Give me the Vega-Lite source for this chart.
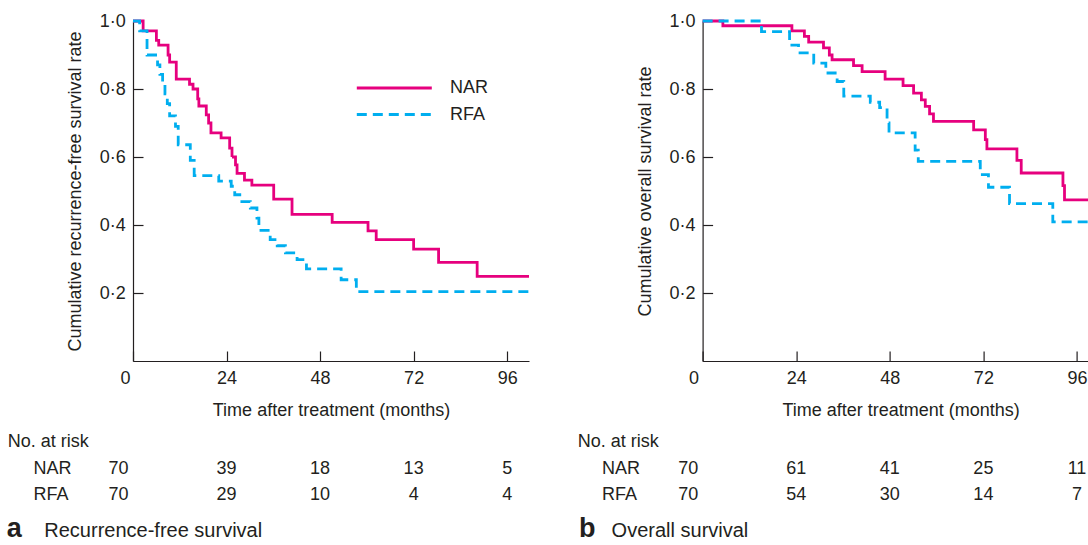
{
  "$schema": "https://vega.github.io/schema/vega-lite/v6.json",
  "background": "white",
  "padding": {"left": 6, "top": 12, "right": 0, "bottom": 0},
  "config": {
    "font": "Liberation Sans",
    "view": {"stroke": null},
    "axis": {"grid": false, "domainColor": "#231f20", "tickColor": "#231f20", "labelColor": "#231f20", "titleColor": "#231f20", "labelFont": "Liberation Sans", "titleFont": "Liberation Sans", "labelFontSize": 18, "titleFontSize": 18, "titleFontWeight": "normal", "domainWidth": 1.2, "tickWidth": 1.2, "tickSize": -10},
    "text": {"font": "Liberation Sans", "fontSize": 18, "color": "#231f20"}
  },
  "datasets": {
    "rfs": [
      {"group": "NAR", "time": 0, "survival": 1},
      {"group": "NAR", "time": 2.6, "survival": 0.971},
      {"group": "NAR", "time": 6.0, "survival": 0.943},
      {"group": "NAR", "time": 6.6, "survival": 0.929},
      {"group": "NAR", "time": 9.0, "survival": 0.9},
      {"group": "NAR", "time": 9.4, "survival": 0.879},
      {"group": "NAR", "time": 11.1, "survival": 0.829},
      {"group": "NAR", "time": 14.5, "survival": 0.814},
      {"group": "NAR", "time": 15.4, "survival": 0.8},
      {"group": "NAR", "time": 16.6, "survival": 0.771},
      {"group": "NAR", "time": 16.9, "survival": 0.75},
      {"group": "NAR", "time": 18.8, "survival": 0.724},
      {"group": "NAR", "time": 19.4, "survival": 0.7},
      {"group": "NAR", "time": 20.0, "survival": 0.671},
      {"group": "NAR", "time": 22.6, "survival": 0.656},
      {"group": "NAR", "time": 24.8, "survival": 0.626},
      {"group": "NAR", "time": 25.4, "survival": 0.6},
      {"group": "NAR", "time": 26.3, "survival": 0.577},
      {"group": "NAR", "time": 26.7, "survival": 0.552},
      {"group": "NAR", "time": 28.6, "survival": 0.532},
      {"group": "NAR", "time": 30.5, "survival": 0.517},
      {"group": "NAR", "time": 36.1, "survival": 0.476},
      {"group": "NAR", "time": 40.8, "survival": 0.431},
      {"group": "NAR", "time": 51.1, "survival": 0.408},
      {"group": "NAR", "time": 60.3, "survival": 0.383},
      {"group": "NAR", "time": 62.4, "survival": 0.357},
      {"group": "NAR", "time": 72.0, "survival": 0.329},
      {"group": "NAR", "time": 78.4, "survival": 0.29},
      {"group": "NAR", "time": 88.3, "survival": 0.249},
      {"group": "NAR", "time": 101.6, "survival": 0.249},
      {"group": "RFA", "time": 0, "survival": 1},
      {"group": "RFA", "time": 1.7, "survival": 0.971},
      {"group": "RFA", "time": 3.6, "survival": 0.9},
      {"group": "RFA", "time": 6.3, "survival": 0.871},
      {"group": "RFA", "time": 6.9, "survival": 0.843},
      {"group": "RFA", "time": 7.6, "survival": 0.814},
      {"group": "RFA", "time": 8.2, "survival": 0.786},
      {"group": "RFA", "time": 8.8, "survival": 0.757},
      {"group": "RFA", "time": 9.4, "survival": 0.721},
      {"group": "RFA", "time": 10.9, "survival": 0.69},
      {"group": "RFA", "time": 11.6, "survival": 0.636},
      {"group": "RFA", "time": 14.7, "survival": 0.59},
      {"group": "RFA", "time": 15.7, "survival": 0.545},
      {"group": "RFA", "time": 22.0, "survival": 0.529},
      {"group": "RFA", "time": 25.2, "survival": 0.514},
      {"group": "RFA", "time": 26.1, "survival": 0.489},
      {"group": "RFA", "time": 27.4, "survival": 0.469},
      {"group": "RFA", "time": 30.1, "survival": 0.45},
      {"group": "RFA", "time": 31.8, "survival": 0.42},
      {"group": "RFA", "time": 32.3, "survival": 0.384},
      {"group": "RFA", "time": 35.2, "survival": 0.357},
      {"group": "RFA", "time": 37.0, "survival": 0.339},
      {"group": "RFA", "time": 39.1, "survival": 0.318},
      {"group": "RFA", "time": 42.1, "survival": 0.298},
      {"group": "RFA", "time": 44.5, "survival": 0.271},
      {"group": "RFA", "time": 53.4, "survival": 0.239},
      {"group": "RFA", "time": 57.3, "survival": 0.204},
      {"group": "RFA", "time": 101.6, "survival": 0.204}
    ],
    "os": [
      {"group": "NAR", "time": 0, "survival": 1},
      {"group": "NAR", "time": 5.2, "survival": 0.986},
      {"group": "NAR", "time": 22.9, "survival": 0.971},
      {"group": "NAR", "time": 26.1, "survival": 0.955},
      {"group": "NAR", "time": 27.2, "survival": 0.938},
      {"group": "NAR", "time": 31.0, "survival": 0.921},
      {"group": "NAR", "time": 32.5, "survival": 0.9},
      {"group": "NAR", "time": 33.2, "survival": 0.886},
      {"group": "NAR", "time": 38.7, "survival": 0.869},
      {"group": "NAR", "time": 40.9, "survival": 0.851},
      {"group": "NAR", "time": 46.8, "survival": 0.829},
      {"group": "NAR", "time": 51.4, "survival": 0.81},
      {"group": "NAR", "time": 54.1, "survival": 0.788},
      {"group": "NAR", "time": 56.1, "survival": 0.768},
      {"group": "NAR", "time": 57.1, "survival": 0.749},
      {"group": "NAR", "time": 58.2, "survival": 0.727},
      {"group": "NAR", "time": 59.2, "survival": 0.705},
      {"group": "NAR", "time": 69.5, "survival": 0.68},
      {"group": "NAR", "time": 72.5, "survival": 0.651},
      {"group": "NAR", "time": 72.9, "survival": 0.624},
      {"group": "NAR", "time": 80.6, "survival": 0.59},
      {"group": "NAR", "time": 81.7, "survival": 0.553},
      {"group": "NAR", "time": 92.4, "survival": 0.516},
      {"group": "NAR", "time": 92.8, "survival": 0.474},
      {"group": "NAR", "time": 98.85, "survival": 0.474},
      {"group": "RFA", "time": 0, "survival": 1},
      {"group": "RFA", "time": 15.1, "survival": 0.969},
      {"group": "RFA", "time": 22.3, "survival": 0.929},
      {"group": "RFA", "time": 24.6, "survival": 0.906},
      {"group": "RFA", "time": 28.5, "survival": 0.876},
      {"group": "RFA", "time": 31.6, "survival": 0.847},
      {"group": "RFA", "time": 34.5, "survival": 0.822},
      {"group": "RFA", "time": 36.2, "survival": 0.779},
      {"group": "RFA", "time": 43.0, "survival": 0.761},
      {"group": "RFA", "time": 45.4, "survival": 0.745},
      {"group": "RFA", "time": 47.3, "survival": 0.7},
      {"group": "RFA", "time": 47.8, "survival": 0.671},
      {"group": "RFA", "time": 54.5, "survival": 0.62},
      {"group": "RFA", "time": 55.3, "survival": 0.587},
      {"group": "RFA", "time": 71.2, "survival": 0.548},
      {"group": "RFA", "time": 73.3, "survival": 0.511},
      {"group": "RFA", "time": 78.7, "survival": 0.463},
      {"group": "RFA", "time": 89.8, "survival": 0.409},
      {"group": "RFA", "time": 98.85, "survival": 0.409}
    ],
    "risk": [
      {"panel": "a", "group": "NAR", "time": 0, "n": 70},
      {"panel": "a", "group": "NAR", "time": 24, "n": 39},
      {"panel": "a", "group": "NAR", "time": 48, "n": 18},
      {"panel": "a", "group": "NAR", "time": 72, "n": 13},
      {"panel": "a", "group": "NAR", "time": 96, "n": 5},
      {"panel": "a", "group": "RFA", "time": 0, "n": 70},
      {"panel": "a", "group": "RFA", "time": 24, "n": 29},
      {"panel": "a", "group": "RFA", "time": 48, "n": 10},
      {"panel": "a", "group": "RFA", "time": 72, "n": 4},
      {"panel": "a", "group": "RFA", "time": 96, "n": 4},
      {"panel": "b", "group": "NAR", "time": 0, "n": 70},
      {"panel": "b", "group": "NAR", "time": 24, "n": 61},
      {"panel": "b", "group": "NAR", "time": 48, "n": 41},
      {"panel": "b", "group": "NAR", "time": 72, "n": 25},
      {"panel": "b", "group": "NAR", "time": 96, "n": 11},
      {"panel": "b", "group": "RFA", "time": 0, "n": 70},
      {"panel": "b", "group": "RFA", "time": 24, "n": 54},
      {"panel": "b", "group": "RFA", "time": 48, "n": 30},
      {"panel": "b", "group": "RFA", "time": 72, "n": 14},
      {"panel": "b", "group": "RFA", "time": 96, "n": 7}
    ]
  },
  "columns": 2,
  "bounds": "flush",
  "align": "each",
  "spacing": {"column": 173.6, "row": 107.7},
  "concat": [
    {
      "width": 396,
      "height": 340,
      "data": {"name": "rfs"},
      "mark": {"type": "line", "interpolate": "step-after", "strokeWidth": 2.8},
      "encoding": {
        "x": {"field": "time", "type": "quantitative", "scale": {"domain": [0, 101.6], "nice": false, "zero": false},
          "axis": {"title": "Time after treatment (months)", "values": [0, 24, 48, 72, 96], "labelPadding": 18.7, "labelOffset": {"condition": {"test": "datum.value === 0", "value": -13}, "value": 0}, "titleX": 198, "titleY": 49, "titleBaseline": "middle", "titleAlign": "center"}},
        "y": {"field": "survival", "type": "quantitative", "scale": {"domain": [0, 1], "nice": false},
          "axis": {"title": "Cumulative recurrence-free survival rate", "values": [0.2, 0.4, 0.6, 0.8, 1], "labelExpr": "replace(format(datum.value, '.1f'), '.', '·')", "labelPadding": 17.7, "titleX": -57.4, "titleY": 170, "titleBaseline": "middle", "titleAlign": "center", "titleAngle": -90}},
        "color": {"field": "group", "type": "nominal", "scale": {"domain": ["NAR", "RFA"], "range": ["#e6007e", "#00aeef"]},
          "legend": {"title": null, "orient": "none", "legendX": 252.3, "legendY": 58, "padding": 0, "symbolType": "M-5,0H5", "symbolSize": 225, "symbolStrokeWidth": 2.8, "symbolOffset": 0, "labelFontSize": 18, "labelFont": "Liberation Sans", "labelColor": "#231f20", "labelOffset": 46.7, "rowPadding": 8.5}},
        "strokeDash": {"field": "group", "type": "nominal", "scale": {"domain": ["NAR", "RFA"], "range": [[1, 0], [10, 6]]},
          "legend": {"title": null, "orient": "none", "legendX": 252.3, "legendY": 58, "padding": 0, "symbolType": "M-5,0H5", "symbolSize": 225, "symbolStrokeWidth": 2.8, "symbolOffset": 0, "labelFontSize": 18, "labelFont": "Liberation Sans", "labelColor": "#231f20", "labelOffset": 46.7, "rowPadding": 8.5}}
      }
    },
    {
      "width": 385.5,
      "height": 340,
      "data": {"name": "os"},
      "mark": {"type": "line", "interpolate": "step-after", "strokeWidth": 2.8},
      "encoding": {
        "x": {"field": "time", "type": "quantitative", "scale": {"domain": [0, 98.85], "nice": false, "zero": false},
          "axis": {"title": "Time after treatment (months)", "values": [0, 24, 48, 72, 96], "labelPadding": 18.7, "labelOffset": {"condition": {"test": "datum.value === 0", "value": -14}, "value": 0}, "titleX": 198, "titleY": 49, "titleBaseline": "middle", "titleAlign": "center"}},
        "y": {"field": "survival", "type": "quantitative", "scale": {"domain": [0, 1], "nice": false},
          "axis": {"title": "Cumulative overall survival rate", "values": [0.2, 0.4, 0.6, 0.8, 1], "labelExpr": "replace(format(datum.value, '.1f'), '.', '·')", "labelPadding": 17.7, "titleX": -57, "titleY": 170, "titleBaseline": "middle", "titleAlign": "center", "titleAngle": -90}},
        "color": {"field": "group", "type": "nominal", "scale": {"domain": ["NAR", "RFA"], "range": ["#e6007e", "#00aeef"]}, "legend": null},
        "strokeDash": {"field": "group", "type": "nominal", "scale": {"domain": ["NAR", "RFA"], "range": [[1, 0], [10, 6]]}, "legend": null}
      }
    },
    {
      "width": 396,
      "height": 26,
      "data": {"name": "risk"},
      "transform": [{"filter": "datum.panel === 'a'"}],
      "layer": [
        {
          "transform": [{"filter": "datum.time > 0"}],
          "mark": {"type": "text", "fontSize": 18, "baseline": "middle", "align": "center"},
          "encoding": {
            "x": {"field": "time", "type": "quantitative", "scale": {"domain": [0, 101.6], "nice": false, "zero": false},
              "axis": {"orient": "bottom", "domain": false, "ticks": false, "labels": false, "tickSize": 0, "title": "Recurrence-free survival", "titleFontSize": 20, "titleFontWeight": "normal", "titleAlign": "left", "titleBaseline": "alphabetic", "titleX": -89.2, "titleY": 42}},
            "y": {"field": "group", "type": "nominal", "scale": {"type": "point", "domain": ["NAR", "RFA"], "padding": 0},
              "axis": {"title": "No. at risk", "titleAngle": 0, "titleAlign": "left", "titleBaseline": "middle", "titleX": -125.7, "titleY": -27, "domain": false, "ticks": false, "tickSize": 0, "labelAlign": "left", "labelBaseline": "middle", "labelPadding": 100}},
            "text": {"field": "n", "type": "quantitative"}
          }
        },
        {
          "transform": [{"filter": "datum.time === 0"}],
          "mark": {"type": "text", "fontSize": 18, "baseline": "middle", "align": "center", "dx": -14.5},
          "encoding": {
            "x": {"field": "time", "type": "quantitative", "scale": {"domain": [0, 101.6], "nice": false, "zero": false},
              "axis": {"orient": "top", "domain": false, "ticks": false, "labels": false, "tickSize": 0, "title": "a", "titleFontSize": 27, "titleFontWeight": "bold", "titleAlign": "left", "titleBaseline": "alphabetic", "titleX": -126.7, "titleY": 68}},
            "y": {"field": "group", "type": "nominal", "scale": {"type": "point", "domain": ["NAR", "RFA"], "padding": 0}},
            "text": {"field": "n", "type": "quantitative"}
          }
        }
      ],
      "resolve": {"axis": {"x": "independent"}}
    },
    {
      "width": 385.5,
      "height": 26,
      "data": {"name": "risk"},
      "transform": [{"filter": "datum.panel === 'b'"}],
      "layer": [
        {
          "transform": [{"filter": "datum.time > 0"}],
          "mark": {"type": "text", "fontSize": 18, "baseline": "middle", "align": "center"},
          "encoding": {
            "x": {"field": "time", "type": "quantitative", "scale": {"domain": [0, 98.85], "nice": false, "zero": false},
              "axis": {"orient": "bottom", "domain": false, "ticks": false, "labels": false, "tickSize": 0, "title": "Overall survival", "titleFontSize": 20, "titleFontWeight": "normal", "titleAlign": "left", "titleBaseline": "alphabetic", "titleX": -91.5, "titleY": 42}},
            "y": {"field": "group", "type": "nominal", "scale": {"type": "point", "domain": ["NAR", "RFA"], "padding": 0},
              "axis": {"title": "No. at risk", "titleAngle": 0, "titleAlign": "left", "titleBaseline": "middle", "titleX": -125.3, "titleY": -27, "domain": false, "ticks": false, "tickSize": 0, "labelAlign": "left", "labelBaseline": "middle", "labelPadding": 101}},
            "text": {"field": "n", "type": "quantitative"}
          }
        },
        {
          "transform": [{"filter": "datum.time === 0"}],
          "mark": {"type": "text", "fontSize": 18, "baseline": "middle", "align": "center", "dx": -14.3},
          "encoding": {
            "x": {"field": "time", "type": "quantitative", "scale": {"domain": [0, 98.85], "nice": false, "zero": false},
              "axis": {"orient": "top", "domain": false, "ticks": false, "labels": false, "tickSize": 0, "title": "b", "titleFontSize": 27, "titleFontWeight": "bold", "titleAlign": "left", "titleBaseline": "alphabetic", "titleX": -124, "titleY": 68}},
            "y": {"field": "group", "type": "nominal", "scale": {"type": "point", "domain": ["NAR", "RFA"], "padding": 0}},
            "text": {"field": "n", "type": "quantitative"}
          }
        }
      ],
      "resolve": {"axis": {"x": "independent"}}
    }
  ]
}
